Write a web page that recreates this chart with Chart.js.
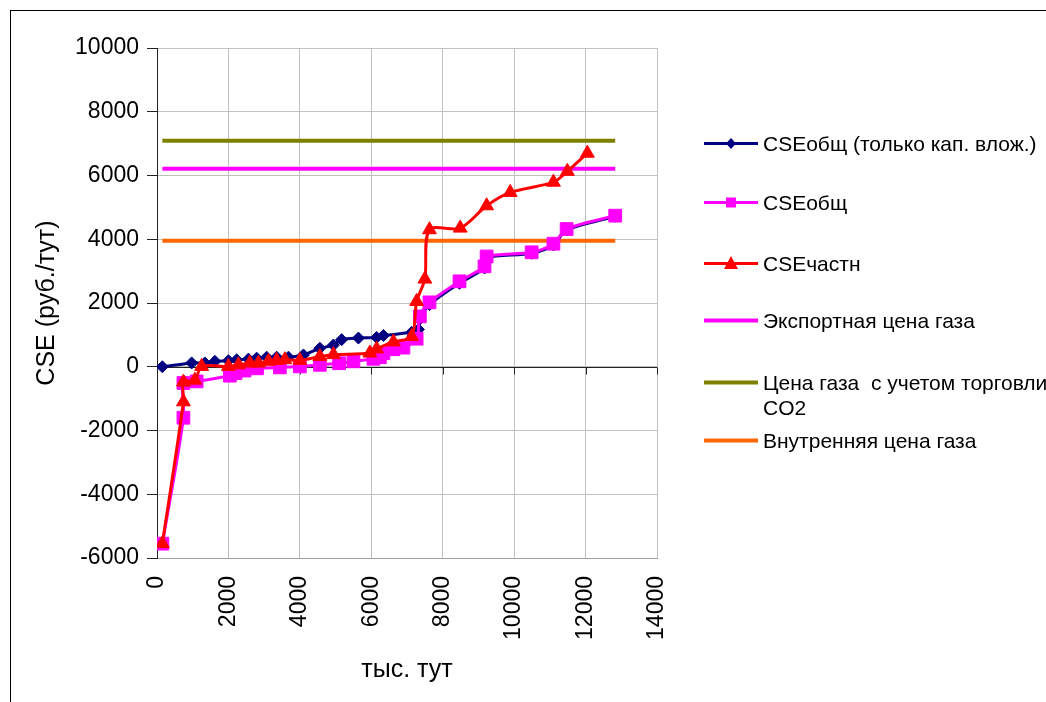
<!DOCTYPE html>
<html>
<head>
<meta charset="utf-8">
<script src="https://cdn.jsdelivr.net/npm/chart.js@4.4.1/dist/chart.umd.min.js"></script>
<style>
  body { margin: 0; width: 1046px; height: 702px; overflow: hidden; background: #fff; font-family: 'Liberation Sans', Arial, sans-serif; }
  #frame { position: absolute; left: 10px; top: 10px; width: 1100px; height: 800px; border: 1px solid #000; }
  #chartBox { position: absolute; left: 10px; top: 10px; width: 1036px; height: 692px; }
  #legend { position: absolute; left: 0; top: 0; }
  .item { position: absolute; left: 704px; white-space: pre; font-size: 21px; line-height: 25px; color: #000; }
  .item canvas { position: absolute; left: 0; top: 0; }
  .item span { position: absolute; left: 59px; top: 0; }
</style>
</head>
<body>
<div id="frame"></div>
<div id="chartBox"><canvas id="chart"></canvas></div>
<div id="legend"></div>
<script>
// x: тыс. тут, y: руб./тут
const xKap = [150, 970, 1340, 1620, 2000, 2230, 2560, 2790, 3070, 3350, 3680, 4100, 4560, 4940, 5170, 5640, 6150, 6340, 7130, 7320, 7360, 7630, 8470, 9170, 9230, 10490, 11100, 11470, 12830];
const yKap = [0, 120, 120, 170, 190, 220, 240, 270, 300, 300, 300, 370, 580, 680, 850, 900, 920, 980, 1080, 1170, 1500, 1950, 2620, 3100, 3420, 3560, 3820, 4290, 4720];

const xObsh = [150, 740, 740, 1110, 2040, 2200, 2450, 2800, 3440, 4000, 4560, 5100, 5500, 6060, 6240, 6340, 6620, 6900, 7270, 7360, 7630, 8470, 9170, 9230, 10490, 11100, 11470, 12830];
const yObsh = [-5550, -1600, -510, -460, -280, -200, -120, -50, -20, 10, 60, 110, 170, 250, 300, 430, 550, 600, 880, 1580, 2020, 2680, 3150, 3460, 3590, 3860, 4320, 4740];

const xChast = [150, 740, 740, 1060, 1250, 2000, 2280, 2600, 2840, 3120, 3350, 3580, 4000, 4560, 4940, 5960, 6150, 6620, 7130, 7270, 7500, 7630, 8490, 9230, 9890, 11100, 11490, 12050];
const yChast = [-5550, -1100, -480, -420, 10, 10, 60, 115, 115, 170, 200, 220, 200, 320, 380, 430, 560, 780, 950, 2050, 2750, 4300, 4350, 5050, 5470, 5790, 6130, 6700];

const priceX = [150, 12830];
const exportPrice = 6210;
const co2Price = 7090;
const domesticPrice = 3950;

const xMin = 0, xMax = 14000, xStep = 2000;
const yMin = -6000, yMax = 10000, yStep = 2000;

const FONT = "'Liberation Sans', Arial, sans-serif";

function pairs(xs, ys) {
    return xs.map((x, i) => ({ x: x, y: ys[i] }));
}

function flat(value) {
    return priceX.map(x => ({ x: x, y: value }));
}

const series = [
    { label: 'CSEобщ (только кап. влож.)', data: pairs(xKap, yKap), color: '#000080', marker: 'rectRot', radius: 6, width: 3, order: 3 },
    { label: 'CSEобщ', data: pairs(xObsh, yObsh), color: '#ff00ff', marker: 'rect', radius: 9, width: 3, order: 2 },
    { label: 'CSEчастн', data: pairs(xChast, yChast), color: '#ff0000', marker: 'triangle', radius: 8, width: 3, order: 1 },
    { label: 'Экспортная цена газа', data: flat(exportPrice), color: '#ff00ff', marker: null, radius: 0, width: 4, order: 5 },
    { label: 'Цена газа  с учетом торговли\nCO2', data: flat(co2Price), color: '#808000', marker: null, radius: 0, width: 4, order: 6 },
    { label: 'Внутренняя цена газа', data: flat(domesticPrice), color: '#ff6600', marker: null, radius: 0, width: 4, order: 4 }
];

// dark zero line with tick marks, like the excel axis crossing
const zeroAxis = {
    id: 'zeroAxis',
    beforeDatasetsDraw(chart) {
        const { ctx, chartArea, scales: { x, y } } = chart;
        const y0 = Math.round(y.getPixelForValue(0)) + 0.5;
        ctx.save();
        ctx.strokeStyle = '#222';
        ctx.lineWidth = 1;
        ctx.beginPath();
        ctx.moveTo(chartArea.left, y0);
        ctx.lineTo(chartArea.right, y0);
        x.ticks.forEach(t => {
            const px = Math.round(x.getPixelForValue(t.value)) + 0.5;
            ctx.moveTo(px, y0);
            ctx.lineTo(px, y0 + 7);
        });
        ctx.stroke();
        ctx.restore();
    }
};

const ctx = document.getElementById('chart').getContext('2d');
const myChart = new Chart(ctx, {
    type: 'line',
    data: {
        datasets: series.map(s => ({
            label: s.label,
            data: s.data,
            borderColor: s.color,
            backgroundColor: s.color,
            borderWidth: s.width,
            pointStyle: s.marker || false,
            pointRadius: s.radius,
            pointBorderWidth: 1,
            tension: s.marker ? 0.3 : 0,
            fill: false,
            order: s.order
        }))
    },
    options: {
        responsive: true,
        maintainAspectRatio: false,
        animation: false,
        layout: { padding: { top: 38, right: 389, left: 0, bottom: 0 } },
        plugins: { legend: { display: false }, tooltip: { enabled: false } },
        scales: {
            x: {
                type: 'linear',
                min: xMin,
                max: xMax,
                afterFit(scale) { scale.height = 144; },
                ticks: {
                    stepSize: xStep,
                    autoSkip: false,
                    minRotation: 90,
                    maxRotation: 90,
                    padding: 18,
                    color: '#000',
                    font: { family: FONT, size: 23 },
                    callback: v => String(v)
                },
                grid: { color: '#c0c0c0', drawTicks: false },
                border: { color: '#a0a0a0' },
                title: {
                    display: true,
                    text: 'тыс. тут',
                    color: '#000',
                    font: { family: FONT, size: 25 },
                    padding: { top: 0, bottom: 17 }
                }
            },
            y: {
                min: yMin,
                max: yMax,
                afterFit(scale) { scale.width = 147; },
                ticks: {
                    stepSize: yStep,
                    padding: 8,
                    color: '#000',
                    font: { family: FONT, size: 23 },
                    callback: v => String(v)
                },
                grid: {
                    color: '#c0c0c0',
                    tickColor: '#222',
                    tickLength: 10
                },
                border: { color: '#222' },
                title: {
                    display: true,
                    text: 'CSE (руб./тут)',
                    color: '#000',
                    font: { family: FONT, size: 25 },
                    padding: { top: 22, bottom: 0 }
                }
            }
        }
    },
    plugins: [zeroAxis]
});

// legend drawn as html next to the chart
const legendRows = [143, 202, 263, 320, 382, 440];
const legend = document.getElementById('legend');
series.forEach((s, i) => {
    const item = document.createElement('div');
    item.className = 'item';
    item.style.top = (legendRows[i] - 12) + 'px';

    const key = document.createElement('canvas');
    key.width = 56;
    key.height = 25;
    const k = key.getContext('2d');
    k.strokeStyle = s.color;
    k.fillStyle = s.color;
    k.lineWidth = s.width;
    k.beginPath();
    k.moveTo(0, 12.5);
    k.lineTo(54, 12.5);
    k.stroke();
    if (s.marker === 'rectRot') {
        k.beginPath();
        k.moveTo(27, 7); k.lineTo(32, 12.5); k.lineTo(27, 18); k.lineTo(22, 12.5);
        k.closePath(); k.fill();
    } else if (s.marker === 'rect') {
        k.fillRect(22, 7.5, 10, 10);
    } else if (s.marker === 'triangle') {
        k.beginPath();
        k.moveTo(27, 5); k.lineTo(34, 18); k.lineTo(20, 18);
        k.closePath(); k.fill();
    }
    item.appendChild(key);

    const text = document.createElement('span');
    text.innerHTML = s.label.replace('\n', '<br>');
    item.appendChild(text);
    legend.appendChild(item);
});
</script>
</body>
</html>
